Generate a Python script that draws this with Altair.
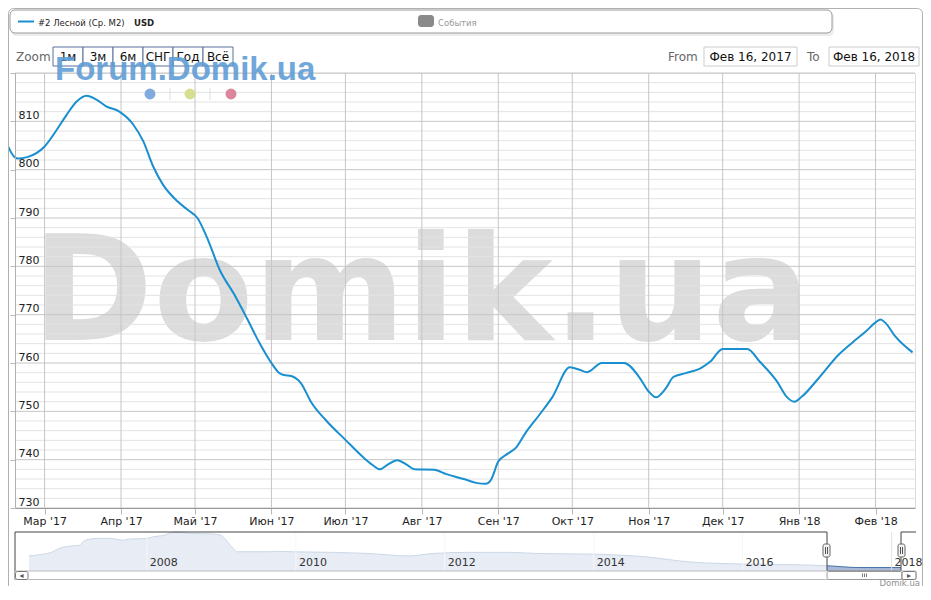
import altair as alt
import pandas as pd

# ---------------- data ----------------
dates = ["2017-02-11", "2017-02-18", "2017-02-22", "2017-03-01", "2017-03-06", "2017-03-10",
         "2017-03-14", "2017-03-18", "2017-03-22", "2017-03-26", "2017-03-31", "2017-04-06",
         "2017-04-10", "2017-04-14", "2017-04-18", "2017-04-24", "2017-04-28", "2017-05-02",
         "2017-05-06", "2017-05-11", "2017-05-17", "2017-05-22", "2017-05-27", "2017-06-01",
         "2017-06-04", "2017-06-06", "2017-06-09", "2017-06-13", "2017-06-17", "2017-06-23",
         "2017-07-01", "2017-07-08", "2017-07-12", "2017-07-15", "2017-07-18", "2017-07-22",
         "2017-07-26", "2017-07-29", "2017-08-06", "2017-08-11", "2017-08-18", "2017-08-23",
         "2017-08-27", "2017-08-29", "2017-09-01", "2017-09-05", "2017-09-08", "2017-09-12",
         "2017-09-18", "2017-09-23", "2017-09-30", "2017-10-04", "2017-10-07", "2017-10-13",
         "2017-10-22", "2017-10-28", "2017-11-01", "2017-11-04", "2017-11-08", "2017-11-11",
         "2017-11-16", "2017-11-22", "2017-11-26", "2017-12-01", "2017-12-11", "2017-12-16",
         "2017-12-23", "2017-12-27", "2017-12-30", "2018-01-02", "2018-01-09", "2018-01-17",
         "2018-01-23", "2018-01-28", "2018-02-01", "2018-02-03", "2018-02-05", "2018-02-09",
         "2018-02-16"]
values = [809.3, 802.3, 802.6, 804.8, 808.3, 811.4,
          814.1, 815.3, 814.5, 813.1, 812.1, 809.3,
          805.9, 800.7, 796.9, 793.4, 791.7, 790.0,
          785.8, 779.3, 774.1, 769.3, 764.3, 760.0,
          758.0, 757.5, 757.3, 755.8, 752.0, 748.2,
          744.1, 740.6, 738.9, 738.0, 738.9, 739.9,
          738.9, 738.0, 737.9, 737.0, 736.0, 735.2,
          735.0, 735.8, 739.6, 741.3, 742.4, 745.5,
          749.5, 753.0, 759.1, 758.6, 758.1, 760.0,
          760.0, 757.2, 754.1, 752.9, 754.8, 757.1,
          757.9, 758.9, 760.3, 762.9, 762.9, 760.3,
          756.2, 753.0, 752.0, 753.0, 756.9, 761.7,
          764.4, 766.5, 768.4, 769.0, 768.3, 765.5,
          762.2]

month_names = ["Янв", "Фев", "Мар", "Апр", "Май", "Июн", "Июл", "Авг", "Сен", "Окт", "Ноя", "Дек"]
month_ticks = ["2017-03-01", "2017-04-01", "2017-05-01", "2017-06-01", "2017-07-01", "2017-08-01",
               "2017-09-01", "2017-10-01", "2017-11-01", "2017-12-01", "2018-01-01", "2018-02-01"]
y_major = [730, 740, 750, 760, 770, 780, 790, 800, 810, 820]
y_minor = [v for v in range(730, 821, 2) if v % 10 != 0]

nav_dates = ["2006-06-02", "2006-08-10", "2006-09-20", "2006-11-01", "2006-12-20", "2007-02-01",
             "2007-03-05", "2007-05-01", "2007-07-05", "2007-09-10", "2007-10-01", "2008-01-01",
             "2008-02-05", "2008-03-20", "2008-05-10", "2008-06-15", "2008-08-01", "2008-11-05",
             "2008-12-25", "2009-02-15", "2009-03-20", "2009-08-10", "2009-09-28", "2009-12-20",
             "2010-07-01", "2010-12-15", "2011-07-10", "2011-11-05", "2012-04-20", "2012-11-15",
             "2013-03-25", "2014-01-01", "2014-09-01", "2015-05-05", "2016-01-01", "2016-09-05",
             "2017-02-17", "2017-07-25", "2018-02-16"]
nav_values = [1109, 1157, 1206, 1320, 1377, 1394,
              1537, 1586, 1586, 1537, 1566, 1586,
              1634, 1663, 1749, 1749, 1720, 1709,
              1680, 1394, 1223, 1223, 1234, 1223,
              1206, 1177, 1109, 1177, 1206, 1206,
              1177, 1157, 1091, 937, 891, 871,
              843, 794, 794]
nav_years = ["2008-01-01", "2010-01-01", "2012-01-01", "2014-01-01", "2016-01-01", "2018-01-01"]
nav_year_labels = ["2008", "2010", "2012", "2014", "2016", "2018"]

zoom_buttons = ["1м", "3м", "6м", "СНГ", "Год", "Всё"]
legend_series = "#2 Лесной (Ср. М2)"
legend_unit = "USD"
legend_events = "События"
range_from = "Фев 16, 2017"
range_to = "Фев 16, 2018"
watermark = "Domik.ua"
watermark_top = "Forum.Domik.ua"
credit = "Domik.ua"

# ---------------- styling ----------------
W, H = 900, 435
LINE = "#1a8fcf"
FONT = "DejaVu Sans"


def dt(s):
    return alt.DateTime(year=int(s[:4]), month=int(s[5:7]), date=int(s[8:10]))


x_scale = alt.Scale(domain=[dt("2017-02-17"), dt("2018-02-17")])
y_scale = alt.Scale(domain=[730, 820], nice=False, zero=False)

month_arr = "[" + ",".join("'%s'" % m for m in month_names) + "]"
x_label_expr = month_arr + "[month(datum.value)] + \" '\" + timeFormat(datum.value, '%y')"

df = pd.DataFrame({"date": dates, "value": values})

wm = alt.Chart(pd.DataFrame({"t": [watermark]})).mark_text(
    font=FONT, fontWeight="bold", fontSize=146, color="#dcdcdc", align="left",
    baseline="alphabetic").encode(x=alt.value(17), y=alt.value(267), text="t:N")

minor = alt.Chart(pd.DataFrame({"v": y_minor})).mark_rule(color="#e3e3e3", strokeWidth=1).encode(
    y=alt.Y("v:Q", scale=y_scale, axis=None))
major = alt.Chart(pd.DataFrame({"v": y_major})).mark_rule(color="#c6c6c6", strokeWidth=1).encode(
    y=alt.Y("v:Q", scale=y_scale, axis=None))
vgrid = alt.Chart(pd.DataFrame({"d": month_ticks})).mark_rule(color="#c6c6c6", strokeWidth=1).encode(
    x=alt.X("d:T", scale=x_scale, axis=None))

line = alt.Chart(df).mark_line(color=LINE, strokeWidth=2, interpolate="monotone", clip=False).encode(
    x=alt.X("date:T", scale=x_scale, title=None,
            axis=alt.Axis(orient="bottom", values=[dt(s) for s in month_ticks], labelExpr=x_label_expr,
                          grid=False, domainColor="#9a9a9a", tickColor="#b8b8b8", tickSize=6,
                          labelPadding=1, labelFontSize=11, labelColor="#222", labelFont=FONT,
                          labelFlush=False, labelOverlap=False, zindex=1)),
    y=alt.Y("value:Q", scale=y_scale, title=None,
            axis=alt.Axis(orient="left", values=y_major, grid=False, labelAlign="left", labelPadding=-8,
                          labelBaseline="alphabetic", labelOffset=-3,
                          labelExpr="datum.value >= 820 ? '' : datum.label",
                          tickSize=5, tickColor="#b8b8b8", domainColor="#b0b0b0",
                          labelFontSize=11, labelColor="#222", labelFont=FONT, zindex=1)),
)

# ---------------- navigator ----------------
NAV_MIN = 700
nav_x = alt.Scale(domain=[dt("2006-06-02"), dt("2018-02-16")], range=[14, 886])
nav_y = alt.Scale(domain=[NAV_MIN, 1760], range=[498, 459], nice=False, zero=False)
ndf = pd.DataFrame({"d": nav_dates, "v": nav_values})

nav_area = alt.Chart(ndf).transform_calculate(base=str(NAV_MIN)).mark_area(
    color="#a9b9d9", opacity=1, interpolate="monotone",
    line=alt.OverlayMarkDef(color="#4572a7", strokeWidth=1)).encode(
    x=alt.X("d:T", scale=nav_x, axis=None),
    y=alt.Y("v:Q", scale=nav_y, axis=None),
    y2=alt.Y2("base:Q"))
nav_grid = alt.Chart(pd.DataFrame({"d": nav_years})).mark_rule(color="#e2e2e2").encode(
    x=alt.X("d:T", scale=nav_x, axis=None), y=alt.value(459), y2=alt.value(498))

one = pd.DataFrame({"k": [0]})


def rect(x, x2, y, y2, fill="white", stroke=None, sw=1, r=0, opacity=1.0):
    kw = dict(fill=fill, cornerRadius=r, opacity=opacity)
    if stroke:
        kw.update(stroke=stroke, strokeWidth=sw)
    return alt.Chart(one).mark_rect(**kw).encode(
        x=alt.value(x), x2=alt.value(x2), y=alt.value(y), y2=alt.value(y2))


def seg(x, x2, y, y2, color="#444", sw=1):
    return alt.Chart(one).mark_rule(color=color, strokeWidth=sw).encode(
        x=alt.value(x), x2=alt.value(x2), y=alt.value(y), y2=alt.value(y2))


def text(x, y, s, size=12, color="#333", align="left", weight="normal", font=FONT, opacity=1.0):
    return alt.Chart(pd.DataFrame({"t": [s]})).mark_text(
        font=font, fontSize=size, color=color, align=align, fontWeight=weight,
        baseline="alphabetic", opacity=opacity).encode(
        x=alt.value(x), y=alt.value(y), text="t:N")


nav_mask = rect(0, 812, 459, 498, fill="white", opacity=0.72)
nav_labels = alt.Chart(pd.DataFrame({"d": nav_years, "l": nav_year_labels})).mark_text(
    align="left", dx=3, fontSize=11, color="#333", font=FONT, baseline="alphabetic").encode(
    x=alt.X("d:T", scale=nav_x, axis=None), y=alt.value(492.7), text="l:N")

SB0, SB1 = 498, 506.5  # scrollbar top / bottom
decos = []
# navigator outline
decos += [
    seg(0, 812, 459, 459), seg(0, 0, 459, SB1), seg(812, 812, 459, 498),
    seg(812, 886, 498, 498), seg(886, 886, 459, 498), seg(886, 901, 459, 459),
]
# scrollbar
decos += [
    rect(0, 901, SB0, SB1, fill="white", stroke="#bbbbbb"),
    rect(0.5, 13, SB0 + 0.5, SB1, fill="#ffffff", stroke="#777777", r=2),
    rect(812, 887, SB0 + 0.5, SB1, fill="#ffffff", stroke="#999999", r=2),
    rect(887, 901, SB0 + 0.5, SB1, fill="#ffffff", stroke="#777777", r=2),
    text(6.5, SB1 - 1.5, "◂", size=8, color="#555", align="center"),
    text(894, SB1 - 1.5, "▸", size=8, color="#555", align="center"),
    seg(847.5, 847.5, SB0 + 2.5, SB1 - 2.5, color="#777"),
    seg(849.5, 849.5, SB0 + 2.5, SB1 - 2.5, color="#777"),
    seg(851.5, 851.5, SB0 + 2.5, SB1 - 2.5, color="#777"),
]
# navigator handles
for hx in (808, 883):
    decos += [rect(hx, hx + 7, 471, 484, fill="#f2f2f2", stroke="#666666", r=2),
              seg(hx + 2.5, hx + 2.5, 474, 481, color="#555"),
              seg(hx + 4.5, hx + 4.5, 474, 481, color="#555")]

# legend box
decos += [
    rect(-4, 819, -61, -37, fill="#000000", r=5, opacity=0.07),
    rect(-5, 817, -63, -40, fill="white", stroke="#9a9a9a", r=5),
    seg(3, 19, -51.5, -51.5, color=LINE, sw=2),
    text(23, -47.5, legend_series, size=8.5, color="#222"),
    text(119, -47.5, legend_unit, size=8.5, color="#222", weight="bold"),
    rect(403, 419, -58, -46, fill="#8a8a8a", r=3),
    text(423, -47.5, legend_events, size=8.5, color="#999"),
]

# range selector
decos += [text(1, -12, "Zoom", size=12, color="#666")]
for i, b in enumerate(zoom_buttons):
    x0 = 38 + 30 * i
    decos += [rect(x0, x0 + 30, -26, -7, fill="white", stroke="#56709a"),
              text(x0 + 15, -12, b, size=12, color="#111", align="center")]
decos += [
    text(653, -12, "From", size=12, color="#666"),
    rect(689, 782, -26, -7, fill="white", stroke="#cccccc"),
    text(735.5, -12, range_from, size=12, color="#111", align="center"),
    text(792, -12, "To", size=12, color="#666"),
    rect(814, 904, -26, -7, fill="white", stroke="#cccccc"),
    text(859, -12, range_to, size=12, color="#111", align="center"),
]

# forum watermark + dots
decos += [
    text(40, 7, watermark_top, size=33, color="#5d9bd6", weight="bold",
         font="Liberation Sans", opacity=0.88),
    seg(155, 155, 15, 27, color="#dddddd"), seg(195, 195, 15, 27, color="#dddddd"),
]
for cx, col in ((135, "#7aa7da"), (175, "#d6dc8a"), (216, "#d97f98")):
    decos.append(alt.Chart(one).mark_circle(size=120, color=col, opacity=0.95).encode(
        x=alt.value(cx), y=alt.value(21)))

# credit and outer border
decos += [
    text(905, 512.5, credit, size=8.5, color="#909090", align="right"),
    rect(-6.5, 907.5, -64.5, 540, fill="transparent", stroke="#b0b0b0", r=5),
]

chart = alt.layer(
    wm, minor, major, vgrid, line, nav_area, nav_grid, nav_mask, nav_labels, *decos
).resolve_scale(
    x="independent", y="independent"
).properties(
    width=W, height=H,
    autosize=alt.AutoSizeParams(type="none"),
    padding={"left": 7, "top": 65, "right": 8, "bottom": 78},
).configure_view(stroke="#c6c6c6", strokeWidth=1).configure(font=FONT)

chart.save("out.html", embed_options={"renderer": "svg", "actions": False})
